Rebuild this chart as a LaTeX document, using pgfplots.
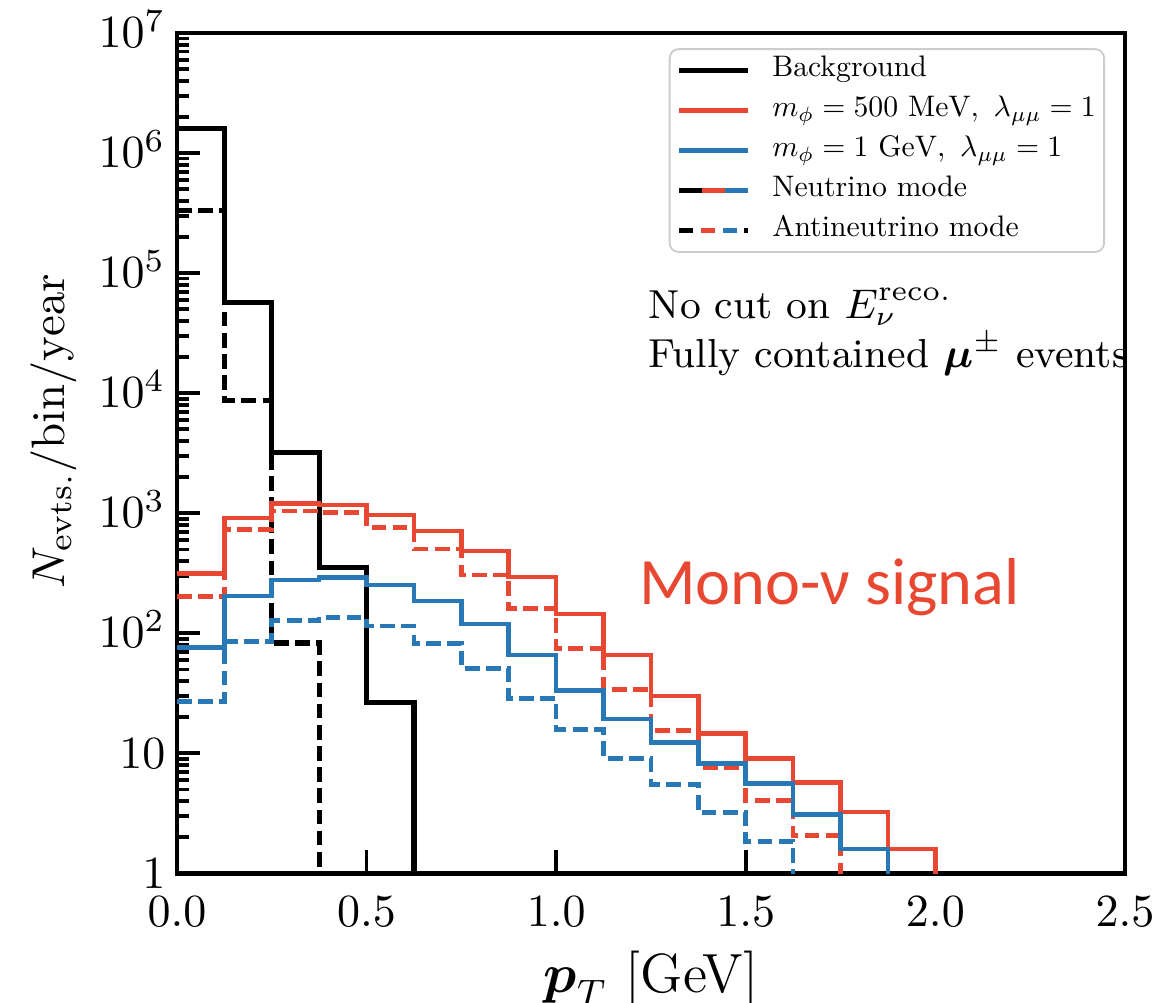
\documentclass[border=0pt]{standalone}
\usepackage{amsmath}
\usepackage{graphicx}
\usepackage{fontspec}
\usepackage{pgfplots}
\pgfplotsset{compat=1.18}
\newfontfamily\carlito{Carlito}
\definecolor{myred}{RGB}{232,72,50}
\definecolor{myblue}{RGB}{40,120,182}
\newcommand\legtxt[1]{\scalebox{0.645}{#1}}
\begin{document}
\begin{tikzpicture}
\begin{axis}[
  width=206pt, height=182.6pt, scale only axis,
  xmin=0, xmax=2.5, ymin=1, ymax=1e7,
  ymode=log,
  xtick={0,0.5,1,1.5,2,2.5},
  xticklabel style={/pgf/number format/fixed,/pgf/number format/fixed zerofill,/pgf/number format/precision=1, yshift=-1.5pt},
  yticklabel={\ifcase\ticknum $1$\or $10$\or $10^{2}$\or $10^{3}$\or $10^{4}$\or $10^{5}$\or $10^{6}$\or $10^{7}$\fi},
  yticklabel style={anchor=base east, yshift=-3.2pt, xshift=1pt},
  tick pos=left,
  tick align=inside,
  major tick length=5pt, minor tick length=2.7pt,
  every tick/.style={black, line width=0.8pt},
  axis line style={line width=1pt},
  xlabel={$\boldsymbol{p}_T$ [GeV]},
  xlabel style={font=\fontsize{12}{14}\selectfont, yshift=1.5pt},
  ylabel={$N_{\mathrm{evts.}}/\mathrm{bin}/\mathrm{year}$},
  ylabel style={font=\fontsize{10.2}{12}\selectfont, at={(ticklabel cs:0.526)}, yshift=-2pt},
  legend image code/.code={\path[draw=none] (0pt,0pt) -- (20pt,0pt); \draw[#1] (0pt,0pt) -- (15pt,0pt);},
  legend cell align=left,
  legend style={at={(0.979,0.982)}, anchor=north east, draw=black!20, rounded corners=2pt,
    fill=white, font=\fontsize{10}{12}\selectfont, inner xsep=1.5pt, inner ysep=0.3pt,
    row sep=0pt,
    nodes={inner sep=0.3pt, text height=5.4pt, text depth=2.7pt}},
  clip=true,
]
\addlegendimage{black, line width=1pt}
\addlegendentry{\legtxt{Background}}
\addlegendimage{myred, line width=1pt}
\addlegendentry{\legtxt{$m_\phi = 500\ \mathrm{MeV},\ \lambda_{\mu\mu} = 1$}}
\addlegendimage{myblue, line width=1pt}
\addlegendentry{\legtxt{$m_\phi = 1\ \mathrm{GeV},\ \lambda_{\mu\mu} = 1$}}
\addlegendimage{legend image code/.code={
  \path[draw=none] (0pt,0pt) -- (20pt,0pt);
  \draw[black, line width=1pt] (0pt,0pt) -- (5pt,0pt);
  \draw[myred, line width=1pt] (5pt,0pt) -- (10pt,0pt);
  \draw[myblue, line width=1pt] (10pt,0pt) -- (15pt,0pt);}}
\addlegendentry{\legtxt{Neutrino mode}}
\addlegendimage{legend image code/.code={
  \path[draw=none] (0pt,0pt) -- (20pt,0pt);
  \draw[black, line width=1pt] (0pt,0pt) -- (3pt,0pt);
  \draw[myred, line width=1pt] (4.8pt,0pt) -- (7.8pt,0pt);
  \draw[myblue, line width=1pt] (9.6pt,0pt) -- (12.6pt,0pt);
  \draw[black, line width=1pt] (14.2pt,0pt) -- (15pt,0pt);}}
\addlegendentry{\legtxt{Antineutrino mode}}

% Background, neutrino mode
\addplot[const plot, black, line width=1.1pt, forget plot] coordinates {
 (0,1.6e6) (0.125,5.7e4) (0.25,3.2e3) (0.375,355) (0.5,26.5) (0.625,1) (0.75,0.5)};
% Background, antineutrino mode
\addplot[const plot, black, line width=1.1pt, dash pattern=on 3.2pt off 1.4pt, forget plot] coordinates {
 (0,3.3e5) (0.125,8.7e3) (0.25,83) (0.375,0.5)};
% m = 500 MeV, neutrino mode
\addplot[const plot, myred, line width=1pt, forget plot] coordinates {
 (0,313) (0.125,910) (0.25,1200) (0.375,1170) (0.5,970) (0.625,710) (0.75,485) (0.875,295)
 (1.0,145) (1.125,66) (1.25,30) (1.375,14.6) (1.5,9.0) (1.625,5.7) (1.75,3.25) (1.875,1.6) (2.0,0.5)};
% m = 500 MeV, antineutrino mode
\addplot[const plot, myred, line width=1pt, dash pattern=on 3.2pt off 1.4pt, forget plot] coordinates {
 (0,202) (0.125,730) (0.25,1040) (0.375,1010) (0.5,760) (0.625,505) (0.75,306) (0.875,160)
 (1.0,75) (1.125,34) (1.25,15.4) (1.375,7.6) (1.5,4.05) (1.625,2.07) (1.75,0.5)};
% m = 1 GeV, neutrino mode
\addplot[const plot, myblue, line width=1pt, forget plot] coordinates {
 (0,76) (0.125,205) (0.25,278) (0.375,292) (0.5,252) (0.625,185) (0.75,119) (0.875,66)
 (1.0,33.5) (1.125,19.3) (1.25,12.3) (1.375,8.2) (1.5,5.6) (1.625,3.1) (1.75,1.6) (1.875,0.5)};
% m = 1 GeV, antineutrino mode
\addplot[const plot, myblue, line width=1pt, dash pattern=on 3.2pt off 1.4pt, forget plot] coordinates {
 (0,27) (0.125,85) (0.25,127) (0.375,136) (0.5,115) (0.625,82) (0.75,51) (0.875,28.5)
 (1.0,15.7) (1.125,9.1) (1.25,5.5) (1.375,3.2) (1.5,1.85) (1.625,0.5)};

\node[anchor=base west, inner sep=0pt, font=\fontsize{8.8}{11}\selectfont] at (axis cs:1.242,4.2e4) {No cut on $E_\nu^{\mathrm{reco.}}$};
\node[anchor=base west, inner sep=0pt, font=\fontsize{8.8}{11}\selectfont] at (axis cs:1.242,1.63e4) {Fully contained $\boldsymbol{\mu}^{\pm}$ events};
\node[anchor=base west, inner sep=0pt, text=myred, font=\carlito\fontsize{14.4}{16}\selectfont] at (axis cs:1.216,174) {Mono-ν signal};

\coordinate (bbSW) at (rel axis cs:-0.1867,-0.1536);
\coordinate (bbNE) at (rel axis cs:1.0359,1.0393);
\end{axis}
\pgfresetboundingbox
\path[use as bounding box] (bbSW) rectangle (bbNE);
\end{tikzpicture}
\end{document}
